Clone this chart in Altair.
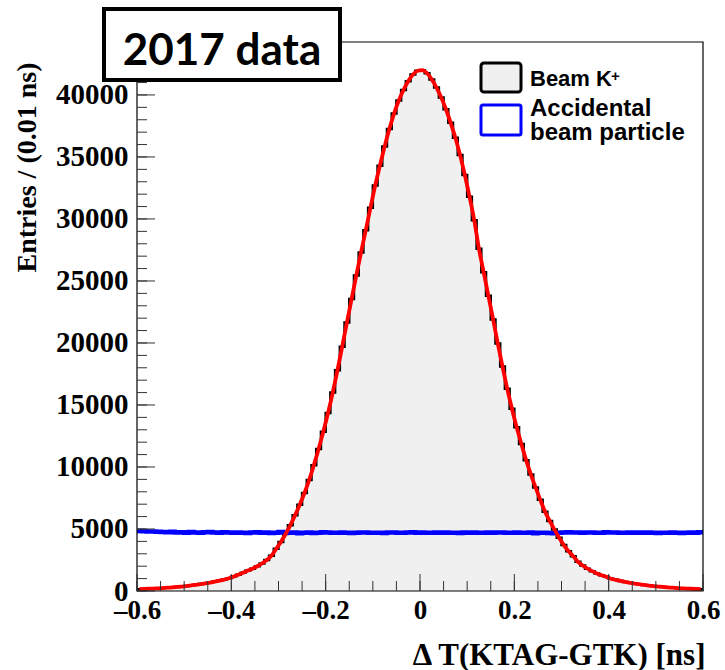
import altair as alt
import numpy as np
import pandas as pd

# ---- histogram contents, 0.01 ns bins from -0.6 to 0.6 ns ----
beam_k = [
    150, 165, 180, 195, 215, 240, 265, 295, 325, 360,
    400, 450, 500, 555, 615, 680, 750, 830, 920, 1030,
    1160, 1310, 1470, 1650, 1800, 2000, 2220, 2500, 2850, 3400,
    3950, 4600, 5300, 6100, 6950, 7900, 8950, 10150, 11450, 12850,
    14350, 16000, 17800, 19700, 21650, 23550, 25450, 27300, 29100, 30900,
    32700, 34300, 35850, 37250, 38500, 39550, 40400, 41100, 41650, 41950,
    42000, 41750, 41250, 40600, 39800, 38850, 37750, 36550, 35150, 33550,
    31800, 29900, 27600, 25700, 23800, 21900, 19950, 18100, 16300, 14700,
    13200, 11850, 10550, 9400, 8350, 7350, 6400, 5650, 4950, 4300,
    3700, 3200, 2800, 2350, 2050, 1800, 1600, 1420, 1270, 1140,
    990, 900, 810, 730, 660, 600, 545, 490, 440, 395,
    360, 325, 295, 265, 240, 215, 195, 180, 165, 150,
]

accidental = [
    4840, 4820, 4790, 4800, 4770, 4760, 4740, 4770, 4720, 4730,
    4700, 4750, 4720, 4690, 4730, 4760, 4720, 4700, 4740, 4710,
    4690, 4720, 4700, 4680, 4720, 4740, 4700, 4710, 4680, 4700,
    4750, 4710, 4690, 4720, 4660, 4690, 4710, 4680, 4700, 4730,
    4710, 4690, 4700, 4720, 4700, 4670, 4690, 4710, 4720, 4700,
    4690, 4700, 4680, 4710, 4720, 4700, 4690, 4710, 4730, 4700,
    4720, 4700, 4690, 4710, 4700, 4720, 4690, 4700, 4680, 4710,
    4700, 4720, 4700, 4690, 4710, 4690, 4720, 4710, 4690, 4700,
    4720, 4700, 4690, 4710, 4660, 4690, 4700, 4680, 4660, 4700,
    4720, 4730, 4710, 4720, 4700, 4720, 4710, 4690, 4700, 4730,
    4710, 4720, 4700, 4690, 4720, 4700, 4710, 4690, 4720, 4700,
    4680, 4700, 4690, 4710, 4700, 4680, 4700, 4710, 4690, 4730,
]

x_ticks_major = [-0.6, -0.4, -0.2, 0.0, 0.2, 0.4, 0.6]
y_ticks_major = [0, 5000, 10000, 15000, 20000, 25000, 30000, 35000, 40000]

X_LO, X_HI, BIN = -0.6, 0.6, 0.01
Y_MAX = 44270
W, H = 566, 549

n_bins = len(beam_k)
edges = np.round(X_LO + BIN * np.arange(n_bins + 1), 4)
centers = np.round(edges[:-1] + BIN / 2, 4)

# step-after data: one row per lower edge, plus the closing upper edge
steps = pd.DataFrame({
    "x": edges,
    "k": beam_k + [beam_k[-1]],
    "acc": accidental + [accidental[-1]],
})
fit = pd.DataFrame({"x": centers, "k": beam_k})

x_scale = alt.Scale(domain=[X_LO, X_HI], nice=False, zero=False)
y_scale = alt.Scale(domain=[0, Y_MAX], nice=False, zero=True)

SERIF = "Liberation Serif"
SANS = "Liberation Sans"

x_axis = alt.Axis(
    values=x_ticks_major,
    labelExpr="datum.value == 0 ? '0' : (datum.value < 0 ? '\u2013' : '') + format(abs(datum.value), '.1f')",
    ticks=False, tickSize=0, domain=False, grid=False,
    labelFont=SERIF, labelFontWeight="bold", labelFontSize=27, labelColor="black",
    labelPadding=6, labelFlush=False, labelOverlap=False,
    title="\u0394 T(KTAG-GTK) [ns]",
    titleFont=SERIF, titleFontWeight="bold", titleFontSize=31, titleColor="black",
    titleAnchor="end", titleAlign="right", titleBaseline="alphabetic",
    titleX=W + 2, titleY=73,
)
y_axis = alt.Axis(
    values=y_ticks_major, format="d",
    ticks=False, tickSize=0, domain=False, grid=False,
    labelFont=SERIF, labelFontWeight="bold", labelFontSize=29, labelColor="black",
    labelPadding=9, labelOverlap=False, labelFlush=False,
    title="Entries / (0.01 ns)",
    titleFont=SERIF, titleFontWeight="bold", titleFontSize=28, titleColor="black",
    titleAngle=-90, titleAlign="right", titleBaseline="middle",
    titleX=-110, titleY=20,
)


def xq(field="x"):
    return alt.X(f"{field}:Q", scale=x_scale, axis=x_axis)


def yq(field):
    return alt.Y(f"{field}:Q", scale=y_scale, axis=y_axis)


base = alt.Chart(steps)

area = base.mark_area(interpolate="step-after", color="#f0f0f0").encode(x=xq(), y=yq("k"))
outline = base.mark_line(interpolate="step-after", color="black", strokeWidth=2.5).encode(x=xq(), y=yq("k"))
acc_line = base.mark_line(interpolate="step-after", color="#0000ff", strokeWidth=4.5).encode(x=xq(), y=yq("acc"))
fit_line = alt.Chart(fit).mark_line(interpolate="monotone", color="#ff0000", strokeWidth=3.8).encode(
    x=xq(), y=yq("k"),
)

one = pd.DataFrame({"a": [0]})

frame = alt.Chart(one).mark_rect(fillOpacity=0, stroke="black", strokeWidth=1.2).encode(
    x=alt.value(0), x2=alt.value(W), y=alt.value(0), y2=alt.value(H),
)

# inward ROOT-style tick marks
x_minor = pd.DataFrame({"x": np.round(np.arange(-0.6, 0.6001, 0.05), 3)})
x_major = pd.DataFrame({"x": x_ticks_major})
y_minor = pd.DataFrame({"k": np.arange(0, 44001, 1000)})
y_major = pd.DataFrame({"k": y_ticks_major})

tick_style = dict(color="#333333", strokeWidth=1)
xt_minor = alt.Chart(x_minor).mark_rule(**tick_style).encode(
    x=xq(), y=alt.value(H), y2=alt.value(H - 10))
xt_major = alt.Chart(x_major).mark_rule(**tick_style).encode(
    x=xq(), y=alt.value(H), y2=alt.value(H - 17))
yt_minor = alt.Chart(y_minor).mark_rule(**tick_style).encode(
    y=yq("k"), x=alt.value(0), x2=alt.value(10))
yt_major = alt.Chart(y_major).mark_rule(**tick_style).encode(
    y=yq("k"), x=alt.value(0), x2=alt.value(18))

# "2017 data" label box
tag_box = alt.Chart(one).mark_rect(fill="white", stroke="black", strokeWidth=4).encode(
    x=alt.value(-33), x2=alt.value(203), y=alt.value(-33), y2=alt.value(38),
)
tag_text = alt.Chart(pd.DataFrame({"t": ["2017 data"]})).mark_text(
    font="Lato", fontWeight="bold", fontSize=44, align="center", baseline="alphabetic", color="black",
).encode(x=alt.value(85), y=alt.value(23), text="t:N")

# legend
leg_k_box = alt.Chart(one).mark_rect(fill="#f0f0f0", stroke="black", strokeWidth=3, cornerRadius=3).encode(
    x=alt.value(344), x2=alt.value(384), y=alt.value(21), y2=alt.value(50),
)
leg_acc_box = alt.Chart(one).mark_rect(fill="white", stroke="#0000ff", strokeWidth=3, cornerRadius=2).encode(
    x=alt.value(344), x2=alt.value(384), y=alt.value(63), y2=alt.value(93),
)


def leg_label(text, py, size):
    return alt.Chart(pd.DataFrame({"t": [text]})).mark_text(
        font=SANS, fontWeight="bold", fontSize=size, align="left", baseline="alphabetic", color="black",
    ).encode(x=alt.value(393), y=alt.value(py), text="t:N")


leg_k = leg_label("Beam K", 44, 22)
leg_acc1 = leg_label("Accidental", 74, 24)
leg_acc2 = leg_label("beam particle", 98, 24)
leg_sup = alt.Chart(pd.DataFrame({"t": ["+"]})).mark_text(
    font=SANS, fontWeight="bold", fontSize=15, align="left", baseline="middle", color="black",
).encode(x=alt.value(474), y=alt.value(34), text="t:N")

chart = alt.layer(
    area, outline, acc_line, fit_line, frame,
    xt_minor, xt_major, yt_minor, yt_major,
    tag_box, tag_text, leg_k_box, leg_acc_box, leg_k, leg_acc1, leg_acc2, leg_sup,
).properties(
    width=W, height=H,
    autosize=alt.AutoSizeParams(type="none"),
    padding={"left": 137, "top": 42, "right": 22, "bottom": 79},
    background="white",
).configure_view(strokeWidth=0)

chart.save("out.html", embed_options={"renderer": "svg", "actions": False})
